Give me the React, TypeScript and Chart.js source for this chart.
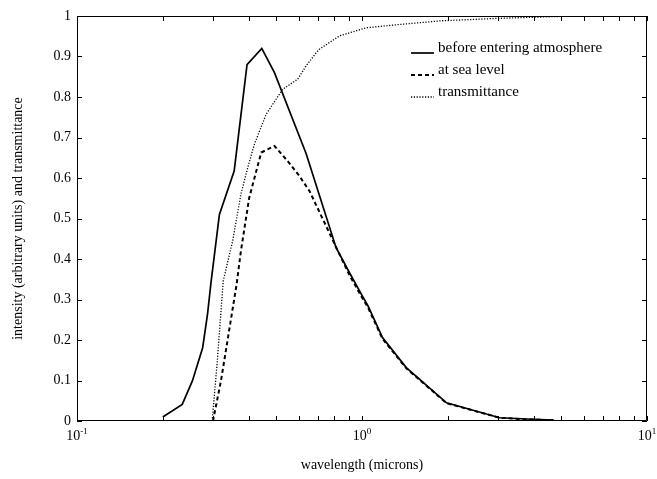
import React, { useEffect, useRef } from 'react';
import { Chart, registerables } from 'chart.js';

Chart.register(...registerables);

const FONT_FAMILY = '"Liberation Serif", "Times New Roman", Times, serif';

// Solar spectrum before entering the atmosphere
const aboveWavelength = [0.2, 0.234, 0.254, 0.276, 0.287, 0.295, 0.316, 0.356, 0.395, 0.445, 0.493, 0.637, 0.811, 0.904, 1.0, 1.05, 1.18, 1.43, 1.98, 3.04, 3.78, 4.7];
const aboveIntensity = [0.01, 0.041, 0.099, 0.181, 0.263, 0.34, 0.51, 0.617, 0.88, 0.92, 0.86, 0.66, 0.428, 0.366, 0.31, 0.284, 0.206, 0.132, 0.045, 0.008, 0.005, 0.002];

// Spectrum at sea level
const seaWavelength = [0.3, 0.32, 0.363, 0.376, 0.402, 0.443, 0.493, 0.548, 0.603, 0.654, 0.823, 0.904, 1.0, 1.05, 1.18, 1.43, 1.98, 3.04, 3.78, 4.7];
const seaIntensity = [0.0, 0.099, 0.337, 0.42, 0.551, 0.663, 0.679, 0.642, 0.605, 0.568, 0.42, 0.36, 0.305, 0.28, 0.203, 0.13, 0.044, 0.008, 0.004, 0.002];

// Atmospheric transmittance
const transWavelength = [0.298, 0.31, 0.326, 0.3515, 0.376, 0.397, 0.419, 0.4607, 0.5266, 0.5946, 0.637, 0.69, 0.709, 0.834, 1.035, 1.354, 1.873, 2.96, 4.0, 5.0, 10.0];
const transmittance = [0.0, 0.14, 0.346, 0.444, 0.56, 0.625, 0.683, 0.757, 0.819, 0.844, 0.877, 0.909, 0.918, 0.951, 0.971, 0.979, 0.988, 0.994, 0.997, 0.999, 1.0];

const seriesLabels = ['before entering atmosphere', 'at sea level', 'transmittance'];

// Log-axis tick positions (major decades get a label)
const xTickValues = [0.1, 0.2, 0.3, 0.4, 0.5, 0.6, 0.7, 0.8, 0.9, 1, 2, 3, 4, 5, 6, 7, 8, 9, 10];
const xMajorTicks = [0.1, 1, 10];
const xMajorExponents = ['-1', '0', '1'];

const xTitle = 'wavelength (microns)';
const yTitle = 'intensity (arbitrary units) and transmittance';

const toPoints = (xs: number[], ys: number[]) => xs.map((x, i) => ({ x, y: ys[i] }));

// Box frame, inward tick marks, power-of-ten labels and the line-sample legend
const framePlugin = {
  id: 'matlabFrame',
  afterDraw(chart: any) {
    const { ctx, chartArea } = chart;
    const { left, right, top, bottom } = chartArea;
    const xs = chart.scales.x;
    const ys = chart.scales.y;
    const tickLen = 5;
    ctx.save();
    ctx.strokeStyle = '#000';
    ctx.lineWidth = 1;
    ctx.setLineDash([]);
    ctx.beginPath();
    ctx.rect(left + 0.5, top + 0.5, right - left - 1, bottom - top - 1);
    xs.ticks.forEach((t: any) => {
      const px = Math.round(xs.getPixelForValue(t.value)) + 0.5;
      ctx.moveTo(px, bottom);
      ctx.lineTo(px, bottom - tickLen);
      ctx.moveTo(px, top);
      ctx.lineTo(px, top + tickLen);
    });
    ys.ticks.forEach((t: any) => {
      const py = Math.round(ys.getPixelForValue(t.value)) + 0.5;
      ctx.moveTo(left, py);
      ctx.lineTo(left + tickLen, py);
      ctx.moveTo(right, py);
      ctx.lineTo(right - tickLen, py);
    });
    ctx.stroke();

    // x tick labels as 10 with a raised exponent
    ctx.fillStyle = '#000';
    ctx.textBaseline = 'alphabetic';
    ctx.textAlign = 'left';
    xMajorTicks.forEach((v, i) => {
      const px = xs.getPixelForValue(v);
      ctx.font = `14px ${FONT_FAMILY}`;
      const wBase = ctx.measureText('10').width;
      ctx.font = `9px ${FONT_FAMILY}`;
      const wExp = ctx.measureText(xMajorExponents[i]).width;
      const x0 = px - (wBase + wExp) / 2;
      ctx.font = `14px ${FONT_FAMILY}`;
      ctx.fillText('10', x0, bottom + 19);
      ctx.font = `9px ${FONT_FAMILY}`;
      ctx.fillText(xMajorExponents[i], x0 + wBase, bottom + 13);
    });

    // legend
    const legendX = 411;
    const sampleLen = 23;
    const rowY = [48, 70, 92];
    chart.data.datasets.forEach((ds: any, i: number) => {
      const cy = rowY[i];
      ctx.beginPath();
      ctx.strokeStyle = ds.borderColor;
      ctx.lineWidth = ds.borderWidth;
      ctx.setLineDash(ds.borderDash || []);
      ctx.moveTo(legendX, cy + 5);
      ctx.lineTo(legendX + sampleLen, cy + 5);
      ctx.stroke();
      ctx.setLineDash([]);
      ctx.fillStyle = '#000';
      ctx.font = `15px ${FONT_FAMILY}`;
      ctx.textBaseline = 'middle';
      ctx.fillText(ds.label, legendX + sampleLen + 4, cy);
    });
    ctx.restore();
  },
};

export default function App() {
  const canvasRef = useRef<HTMLCanvasElement | null>(null);

  useEffect(() => {
    document.body.style.margin = '0';
    const canvas = canvasRef.current;
    if (!canvas) return;
    const chart = new Chart(canvas, {
      type: 'line',
      data: {
        datasets: [
          {
            label: seriesLabels[0],
            data: toPoints(aboveWavelength, aboveIntensity),
            borderColor: '#000',
            borderWidth: 1.7,
            borderDash: [],
            pointRadius: 0,
            tension: 0,
          },
          {
            label: seriesLabels[1],
            data: toPoints(seaWavelength, seaIntensity),
            borderColor: '#000',
            borderWidth: 2,
            borderDash: [4, 3],
            pointRadius: 0,
            tension: 0,
          },
          {
            label: seriesLabels[2],
            data: toPoints(transWavelength, transmittance),
            borderColor: '#000',
            borderWidth: 1.3,
            borderDash: [1.2, 1.6],
            pointRadius: 0,
            tension: 0,
          },
        ],
      },
      options: {
        animation: false,
        responsive: false,
        devicePixelRatio: 1,
        parsing: false,
        layout: { padding: { top: 16, right: 10, left: 0, bottom: 0 } },
        plugins: {
          legend: { display: false },
          tooltip: { enabled: false },
        },
        scales: {
          x: {
            type: 'logarithmic',
            min: 0.1,
            max: 10,
            afterBuildTicks: (scale: any) => {
              scale.ticks = xTickValues.map((value) => ({ value }));
            },
            afterFit: (scale: any) => {
              scale.height = 58;
            },
            grid: { display: false, drawTicks: false },
            border: { display: false },
            ticks: { display: false },
            title: {
              display: true,
              text: xTitle,
              color: '#000',
              font: { family: FONT_FAMILY, size: 14 },
              padding: { top: 0, bottom: 5 },
            },
          },
          y: {
            type: 'linear',
            min: 0,
            max: 1,
            afterFit: (scale: any) => {
              scale.width = 77;
            },
            grid: { display: false, drawTicks: false },
            border: { display: false },
            ticks: {
              stepSize: 0.1,
              padding: 6,
              color: '#000',
              font: { family: FONT_FAMILY, size: 14 },
              callback: (v: any) => String(Number(Number(v).toFixed(1))),
            },
            title: {
              display: true,
              text: yTitle,
              color: '#000',
              font: { family: FONT_FAMILY, size: 14 },
              padding: { top: 10, bottom: 0 },
            },
          },
        },
      },
      plugins: [framePlugin],
    });
    return () => chart.destroy();
  }, []);

  return (
    <div style={{ position: 'fixed', left: 0, top: 0, width: 657, height: 479, background: '#fff' }}>
      <canvas ref={canvasRef} width={657} height={479} style={{ display: 'block' }} />
    </div>
  );
}
